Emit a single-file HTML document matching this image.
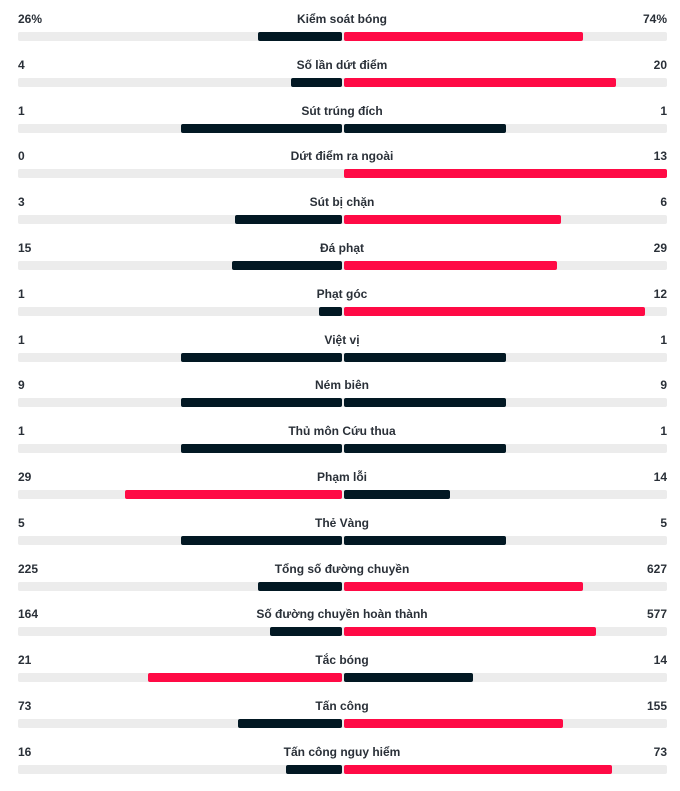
<!DOCTYPE html>
<html><head><meta charset="utf-8"><style>
body{margin:0;width:680px;height:782px;background:#fff;font-family:"Liberation Sans",sans-serif;color:#1f2b33;position:relative;overflow:hidden}
.r{position:absolute;left:0;width:680px;height:46px}
.t{position:absolute;top:0;font-size:12px;line-height:14px;font-weight:bold;color:#2a3038}
.l{left:18px}.rt{right:13px}.c{left:0;width:684px;text-align:center}
.tr{position:absolute;top:20px;left:18px;width:649px;height:9px;background:#ececec;border-radius:2px}
.b{position:absolute;top:20px;height:9px;border-radius:2px}
.d{background:#021823}.p{background:#ff0a45}
</style></head><body>
<script>
const rows=[["26%","Kiểm soát bóng","74%",258,583,"d","p"],
["4","Số lần dứt điểm","20",291,616,"d","p"],
["1","Sút trúng đích","1",181,506,"d","d"],
["0","Dứt điểm ra ngoài","13",342,667,"d","p"],
["3","Sút bị chặn","6",235,561,"d","p"],
["15","Đá phạt","29",232,557,"d","p"],
["1","Phạt góc","12",319,645,"d","p"],
["1","Việt vị","1",181,506,"d","d"],
["9","Ném biên","9",181,506,"d","d"],
["1","Thủ môn Cứu thua","1",181,506,"d","d"],
["29","Phạm lỗi","14",125,450,"p","d"],
["5","Thẻ Vàng","5",181,506,"d","d"],
["225","Tổng số đường chuyền","627",258,583,"d","p"],
["164","Số đường chuyền hoàn thành","577",270,596,"d","p"],
["21","Tắc bóng","14",148,473,"p","d"],
["73","Tấn công","155",238,563,"d","p"],
["16","Tấn công nguy hiểm","73",286,612,"d","p"]];
let h="";
rows.forEach((r,i)=>{const y=12+i*45.8;
h+=`<div class="r" style="top:${y}px"><div class="t l">${r[0]}</div><div class="t c">${r[1]}</div><div class="t rt">${r[2]}</div><div class="tr"></div>`;
if(r[3]<342)h+=`<div class="b ${r[5]}" style="left:${r[3]}px;width:${342-r[3]}px"></div>`;
h+=`<div class="b ${r[6]}" style="left:344px;width:${r[4]-344}px"></div></div>`;});
document.write(h);
</script>
</body></html>
